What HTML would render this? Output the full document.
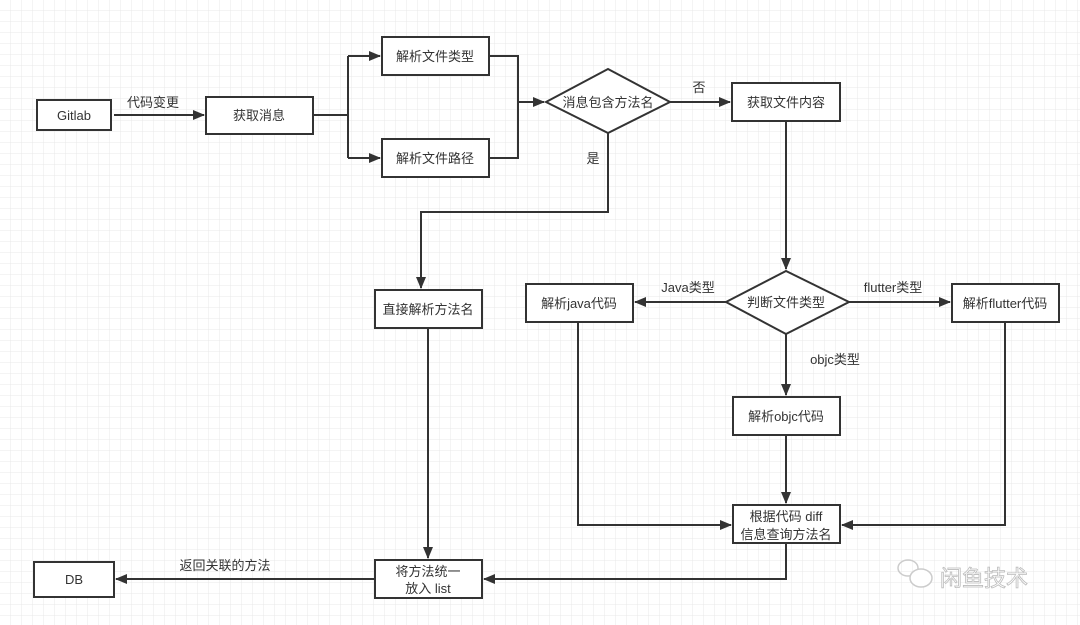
<!DOCTYPE html>
<html><head><meta charset="utf-8"><style>
html,body{margin:0;padding:0;background:#fff;}
svg{display:block;}
text{font-family:"Liberation Sans","Noto Sans CJK SC",sans-serif;font-size:13px;fill:#333;}
</style></head><body>
<svg width="1080" height="625" viewBox="0 0 1080 625" xmlns="http://www.w3.org/2000/svg">
<defs>
<pattern id="g" width="11" height="11" patternUnits="userSpaceOnUse">
<path d="M11 0V11M0 11H11" fill="none" stroke="#e8e8e8" stroke-width="1"/>
</pattern>
<marker id="a" markerWidth="12" markerHeight="10" refX="11" refY="5" orient="auto" markerUnits="userSpaceOnUse">
<path d="M0,0 L12,5 L0,10 Z" fill="#333"/>
</marker>
</defs>
<rect width="1080" height="625" fill="url(#g)"/>
<g fill="#fff" stroke="#333" stroke-width="2">
<rect x="37" y="100" width="74" height="30"/>
<rect x="206" y="97" width="107" height="37"/>
<rect x="382" y="37" width="107" height="38"/>
<rect x="382" y="139" width="107" height="38"/>
<polygon points="546,102 608,69 670,102 608,133"/>
<rect x="732" y="83" width="108" height="38"/>
<polygon points="726,302 786,271 849,302 786,334"/>
<rect x="375" y="290" width="107" height="38"/>
<rect x="526" y="284" width="107" height="38"/>
<rect x="952" y="284" width="107" height="38"/>
<rect x="733" y="397" width="107" height="38"/>
<rect x="733" y="505" width="107" height="38"/>
<rect x="375" y="560" width="107" height="38"/>
<rect x="34" y="562" width="80" height="35"/>
</g>
<g fill="none" stroke="#333" stroke-width="2">
<path d="M114 115H204" marker-end="url(#a)"/>
<path d="M313 115H348M348 56V158"/>
<path d="M348 56H380" marker-end="url(#a)"/>
<path d="M348 158H380" marker-end="url(#a)"/>
<path d="M489 56H518V158H489"/>
<path d="M518 102H544" marker-end="url(#a)"/>
<path d="M670 102H730" marker-end="url(#a)"/>
<path d="M608 133V212H421V288" marker-end="url(#a)"/>
<path d="M786 121V269" marker-end="url(#a)"/>
<path d="M726 302H635" marker-end="url(#a)"/>
<path d="M849 302H950" marker-end="url(#a)"/>
<path d="M786 334V395" marker-end="url(#a)"/>
<path d="M786 435V503" marker-end="url(#a)"/>
<path d="M578 322V525H731" marker-end="url(#a)"/>
<path d="M1005 322V525H842" marker-end="url(#a)"/>
<path d="M428 328V558" marker-end="url(#a)"/>
<path d="M786 543V579H484" marker-end="url(#a)"/>
<path d="M375 579H116" marker-end="url(#a)"/>
</g>
<g text-anchor="middle">
<text x="74" y="120">Gitlab</text>
<text x="259" y="120">获取消息</text>
<text x="435" y="61">解析文件类型</text>
<text x="435" y="163">解析文件路径</text>
<text x="608" y="107">消息包含方法名</text>
<text x="786" y="107">获取文件内容</text>
<text x="786" y="307">判断文件类型</text>
<text x="428" y="314">直接解析方法名</text>
<text x="579" y="308">解析java代码</text>
<text x="1005" y="308">解析flutter代码</text>
<text x="786" y="421">解析objc代码</text>
<text x="786" y="521">根据代码 diff</text>
<text x="786" y="539">信息查询方法名</text>
<text x="428" y="576">将方法统一</text>
<text x="428" y="593">放入 list</text>
<text x="74" y="584">DB</text>
<text x="153" y="107">代码变更</text>
<text x="699" y="92">否</text>
<text x="593" y="163">是</text>
<text x="688" y="292">Java类型</text>
<text x="893" y="292">flutter类型</text>
<text x="835" y="364">objc类型</text>
<text x="225" y="570">返回关联的方法</text>
</g>
<g fill="none" stroke="#ccc" stroke-width="1.5">
<ellipse cx="908" cy="568" rx="10" ry="8"/>
<ellipse cx="921" cy="578" rx="11" ry="9" fill="#fff"/>
</g>
<text x="940" y="586" style="font-size:22px;fill:#fff;stroke:#bbb;stroke-width:0.8">闲鱼技术</text>
</svg>
</body></html>
